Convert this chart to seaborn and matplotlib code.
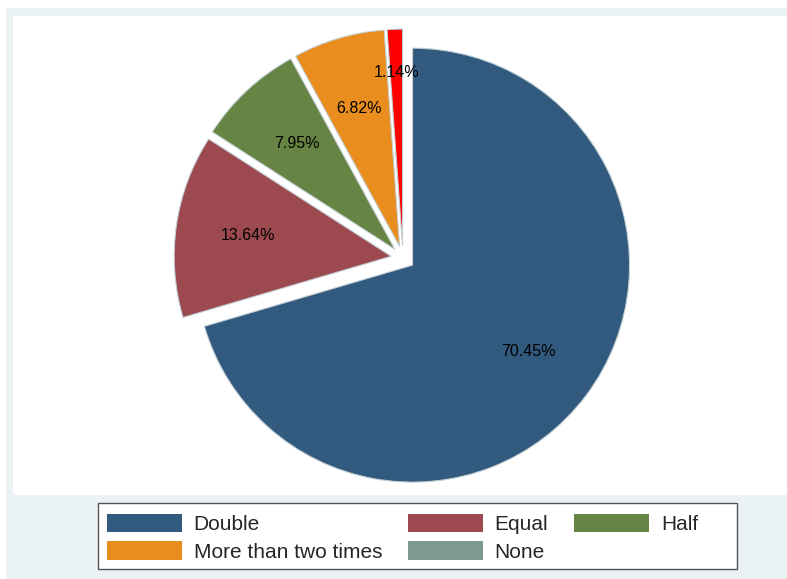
import matplotlib
matplotlib.use("Agg")
import numpy as np
import matplotlib.pyplot as plt
import seaborn as sns
from matplotlib.patches import Rectangle, Patch

sns.set_theme(style="white")
plt.rcParams['font.family'] = ['Liberation Sans', 'DejaVu Sans']

categories = ["Double", "Equal", "Half", "More than two times", "None"]
values = [70.45, 13.64, 7.95, 6.82, 1.14]
slice_colors = ["#325A7E", "#9C4A50", "#668443", "#E88D1E", "#FF0000"]
legend_colors = ["#325A7E", "#9C4A50", "#668443", "#E88D1E", "#7E998F"]

W, H = 787, 579
fig = plt.figure(figsize=(W / 100, H / 100), dpi=100)
fig.patch.set_facecolor("white")


def frect(x0, y0, x1, y1, **kw):
    r = Rectangle((x0 / W, 1 - y1 / H), (x1 - x0) / W, (y1 - y0) / H,
                  transform=fig.transFigure, **kw)
    fig.add_artist(r)
    return r


# graph region (light) and plot region (white)
frect(6, 8, W, H, facecolor="#EAF2F3", edgecolor="none", zorder=-10)
x0, y0, x1, y1 = 13, 16, W, 495
frect(x0, y0, x1, y1, facecolor="white", edgecolor="none", zorder=-9)

ax = fig.add_axes([x0 / W, 1 - y1 / H, (x1 - x0) / W, (y1 - y0) / H])
ax.patch.set_alpha(0)
for s in ax.spines.values():
    s.set_visible(False)

R = 217.0
cx, cy = 403, 258
wedges, texts, autotexts = ax.pie(
    values, colors=slice_colors, startangle=90, counterclock=False,
    explode=[0.055] * len(values), autopct="%.2f%%", pctdistance=0.665,
    wedgeprops=dict(edgecolor="#c4d0d4", linewidth=0.8),
    textprops=dict(fontsize=11.5, color="black"))
# the smallest slice's label sits further out
w = wedges[-1]
th = np.deg2rad((w.theta1 + w.theta2) / 2)
autotexts[-1].set_position((w.center[0] + 0.80 * np.cos(th),
                            w.center[1] + 0.80 * np.sin(th)))
ax.set_aspect("auto")
ax.set_xlim(-(cx - x0) / R, (x1 - cx) / R)
ax.set_ylim(-(y1 - cy) / R, (cy - y0) / R)
ax.set_xticks([]); ax.set_yticks([])

# legend box
frect(98, 503, 737, 569, facecolor="white", edgecolor="#555555",
      linewidth=1.0, zorder=1)
handles = [Patch(facecolor=c, edgecolor="none") for c in legend_colors]
order = [0, 3, 1, 4, 2]
leg = fig.legend([handles[i] for i in order], [categories[i] for i in order],
                 ncol=3, loc="upper left", bbox_to_anchor=(103 / W, 1 - 509.5 / H),
                 frameon=False, fontsize=15, handlelength=3.6, handleheight=1.0,
                 handletextpad=0.55, columnspacing=1.25, labelspacing=0.35,
                 borderaxespad=0, borderpad=0.2)
leg.set_zorder(2)

fig.savefig("out.png", dpi=100, facecolor=fig.get_facecolor())
